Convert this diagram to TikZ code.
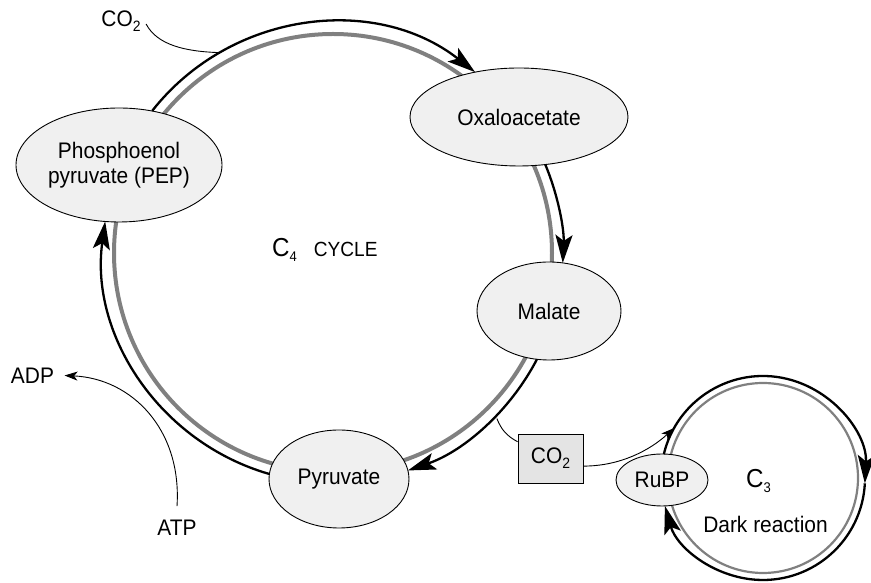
\documentclass[tikz,border=0pt]{standalone}
\usepackage{fontspec}
\setmainfont{Liberation Sans}[FakeStretch=0.93]
\usetikzlibrary{shapes.geometric,arrows.meta,calc}
\definecolor{ringgray}{HTML}{808080}
\definecolor{nodefill}{HTML}{F0F0F0}
\definecolor{boxfill}{HTML}{E4E4E4}
\newcommand\lowsub[1]{\raisebox{-5pt}{\fontsize{15}{15}\selectfont #1}}

\begin{document}
\begin{tikzpicture}[x=1pt,y=1pt,
  every node/.style={font=\fontsize{22.5}{25}\selectfont},
  metab/.style={ellipse, draw=black, line width=0.9pt, fill=nodefill, inner sep=0pt, align=center},
  ring/.style={line width=2.3pt, -{Stealth[length=28pt,width=17pt,inset=6pt]}},
  thinline/.style={line width=0.9pt},
  smalltip/.style={-{Stealth[length=13pt,width=9pt,inset=3.5pt]}}
]
\useasboundingbox (0,0) rectangle (871,583);

% cycle centres
\coordinate (c4) at (333,330);
\coordinate (c3) at (763,105);

% inner grey rings
\draw[ringgray, line width=4pt] (c4) circle[radius=219];
\draw[ringgray, line width=2.2pt] (c3) circle[radius=95];

% metabolites
\node[metab, minimum width=206, minimum height=114] (pep) at (119,418) {Phosphoenol\\pyruvate (PEP)};
\node[metab, minimum width=218, minimum height=98] (oxa) at (519,466) {Oxaloacetate};
\node[metab, minimum width=144, minimum height=98] (mal) at (549,272) {Malate};
\node[metab, minimum width=140, minimum height=98] (pyr) at (339,104) {Pyruvate};
\node[metab, minimum width=92, minimum height=52] (rubp) at (662,103) {RuBP};
\node[draw, fill=boxfill, line width=0.9pt, minimum width=65, minimum height=49, inner sep=0pt] (co2b) at (550.5,124.5) {CO\lowsub{2}};

% C4 cycle: clockwise arcs between the metabolites
\draw[ring] ($(c4)+(141.8:230)$) arc[start angle=141.8, end angle=51.85, radius=230];
\draw[ring] ($(c4)+(22.65:230)$) arc[start angle=22.65, end angle=-2.48, radius=230];
\draw[ring] ($(c4)+(-27.5:230)$) arc[start angle=-27.5, end angle=-71, radius=230];
\draw[ring] ($(c4)+(-106.1:230)$) arc[start angle=-106.1, end angle=-187.9, radius=230];

% C3 cycle
\draw[ring] ($(c3)+(166.4:102)$) arc[start angle=166.4, end angle=-3, radius=102];
\draw[ring] ($(c3)+(-3:102)$) arc[start angle=-3, end angle=-164.1, radius=102];

% labels
\node (co2top) at (121,562) {CO\lowsub{2}};
\node (atp) at (177,55.5) {ATP};
\node (adp) at (32.5,207.5) {ADP};
\node[anchor=base west, inner sep=0pt] (c4lbl) at (272,326)
  {{\fontsize{26}{26}\selectfont C}\raisebox{-5pt}{\fontsize{14}{14}\selectfont 4}\hspace{17pt}{\fontsize{20.5}{20.5}\selectfont CYCLE}};
\node[anchor=base west, inner sep=0pt] (c3lbl) at (746,95)
  {{\fontsize{26}{26}\selectfont C}\raisebox{-5pt}{\fontsize{14}{14}\selectfont 3}};
\node[anchor=base, inner sep=0pt] (dark) at (765.5,50) {Dark reaction};

% CO2 fixation and ATP use
\coordinate (c4co2) at ($(c4)+(119.4:230)$);
\draw[thinline] ([xshift=2pt,yshift=-3pt]co2top.east) .. controls +(11,-21) and +(-35,1) .. (c4co2);
\draw[thinline, smalltip] ([yshift=10pt]atp.north) .. controls +(5,77) and +(67,-3) .. ([xshift=7pt]adp.east);

% CO2 release and transfer into the C3 cycle
\coordinate (c4out) at ($(c4)+(-45.3:233)$);
\coordinate (c3in) at ($(c3)+(150.7:102)$);
\draw[thinline] (c4out) to[bend right=20] (co2b.153);
\draw[thinline, smalltip] (co2b.-13) .. controls +(37,0) and +(-24,-22) .. (c3in);
\end{tikzpicture}
\end{document}
